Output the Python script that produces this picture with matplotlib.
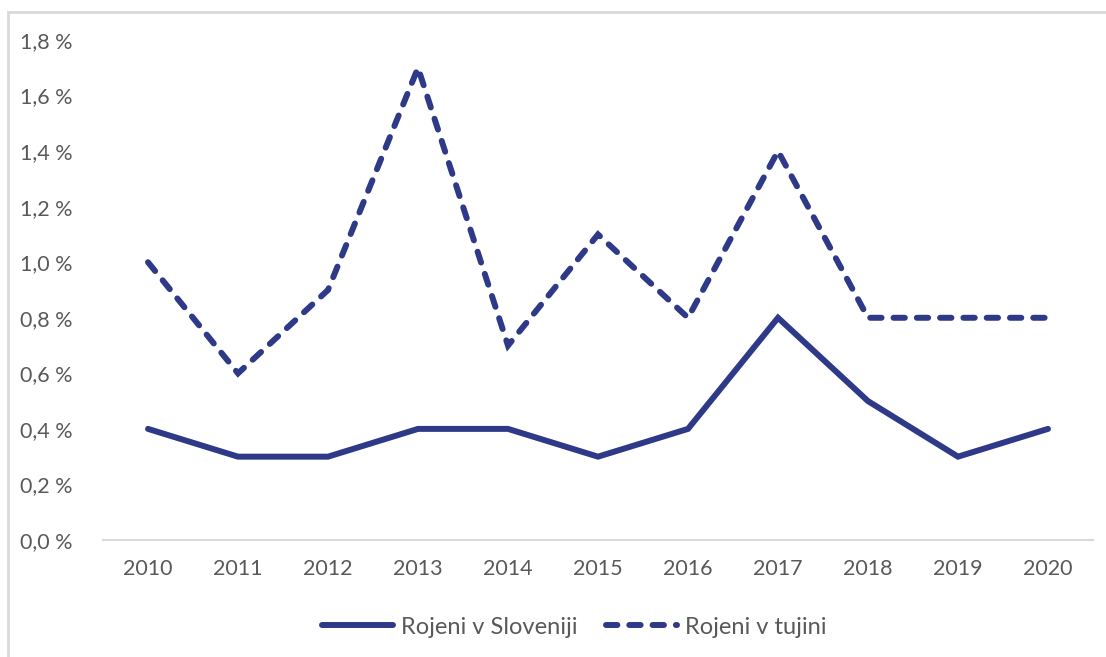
import matplotlib.pyplot as plt
import matplotlib.ticker as ticker
from matplotlib.patches import Rectangle

years = ['2010', '2011', '2012', '2013', '2014', '2015', '2016', '2017', '2018', '2019', '2020']
rojeni_slovenija = [0.4, 0.3, 0.3, 0.4, 0.4, 0.3, 0.4, 0.8, 0.5, 0.3, 0.4]
rojeni_tujina = [1.0, 0.6, 0.9, 1.7, 0.7, 1.1, 0.8, 1.4, 0.8, 0.8, 0.8]

plt.rcParams['font.family'] = ['Lato', 'DejaVu Sans']
line_color = '#2E3A87'
text_color = '#595959'

W, H = 1106, 657
fig = plt.figure(figsize=(W / 100, H / 100), dpi=100)
ax = fig.add_axes([103 / W, 1 - 540 / H, 990 / W, 500 / H])

x = range(len(years))
ax.plot(x, rojeni_slovenija, color=line_color, lw=4.3, solid_capstyle='round',
        solid_joinstyle='miter', label='Rojeni v Sloveniji')
ax.plot(x, rojeni_tujina, color=line_color, lw=4.3, dashes=(1.9, 2.0),
        dash_capstyle='round', dash_joinstyle='miter', label='Rojeni v tujini')

ax.set_xlim(-0.5, len(years) - 0.5)
ax.set_ylim(0, 1.8)
ax.set_xticks(list(x))
ax.set_xticklabels(years)
ax.yaxis.set_major_locator(ticker.MultipleLocator(0.2))
ax.yaxis.set_major_formatter(ticker.FuncFormatter(lambda v, p: f'{v:.1f} %'.replace('.', ',')))

for s in ['top', 'right', 'left']:
    ax.spines[s].set_visible(False)
ax.spines['bottom'].set_color('#D9D9D9')
ax.spines['bottom'].set_linewidth(1.5)
ax.tick_params(length=0, labelsize=15.5, colors=text_color)
ax.tick_params(axis='x', pad=14)
ax.tick_params(axis='y', pad=22)

fig.legend(loc='center', bbox_to_anchor=(574 / W, 1 - 627 / H), ncol=2, frameon=False,
           fontsize=17, labelcolor=text_color, handlelength=3.0, handletextpad=0.35,
           columnspacing=1.2)

# chart border (only top and left are visible in the crop)
fig.patches.append(Rectangle((8 / W, -0.1), 1.2, 1.1 - 12 / H, transform=fig.transFigure,
                             fill=False, edgecolor='#D9D9D9', lw=2, zorder=-1))

fig.savefig('out.png', dpi=100)
